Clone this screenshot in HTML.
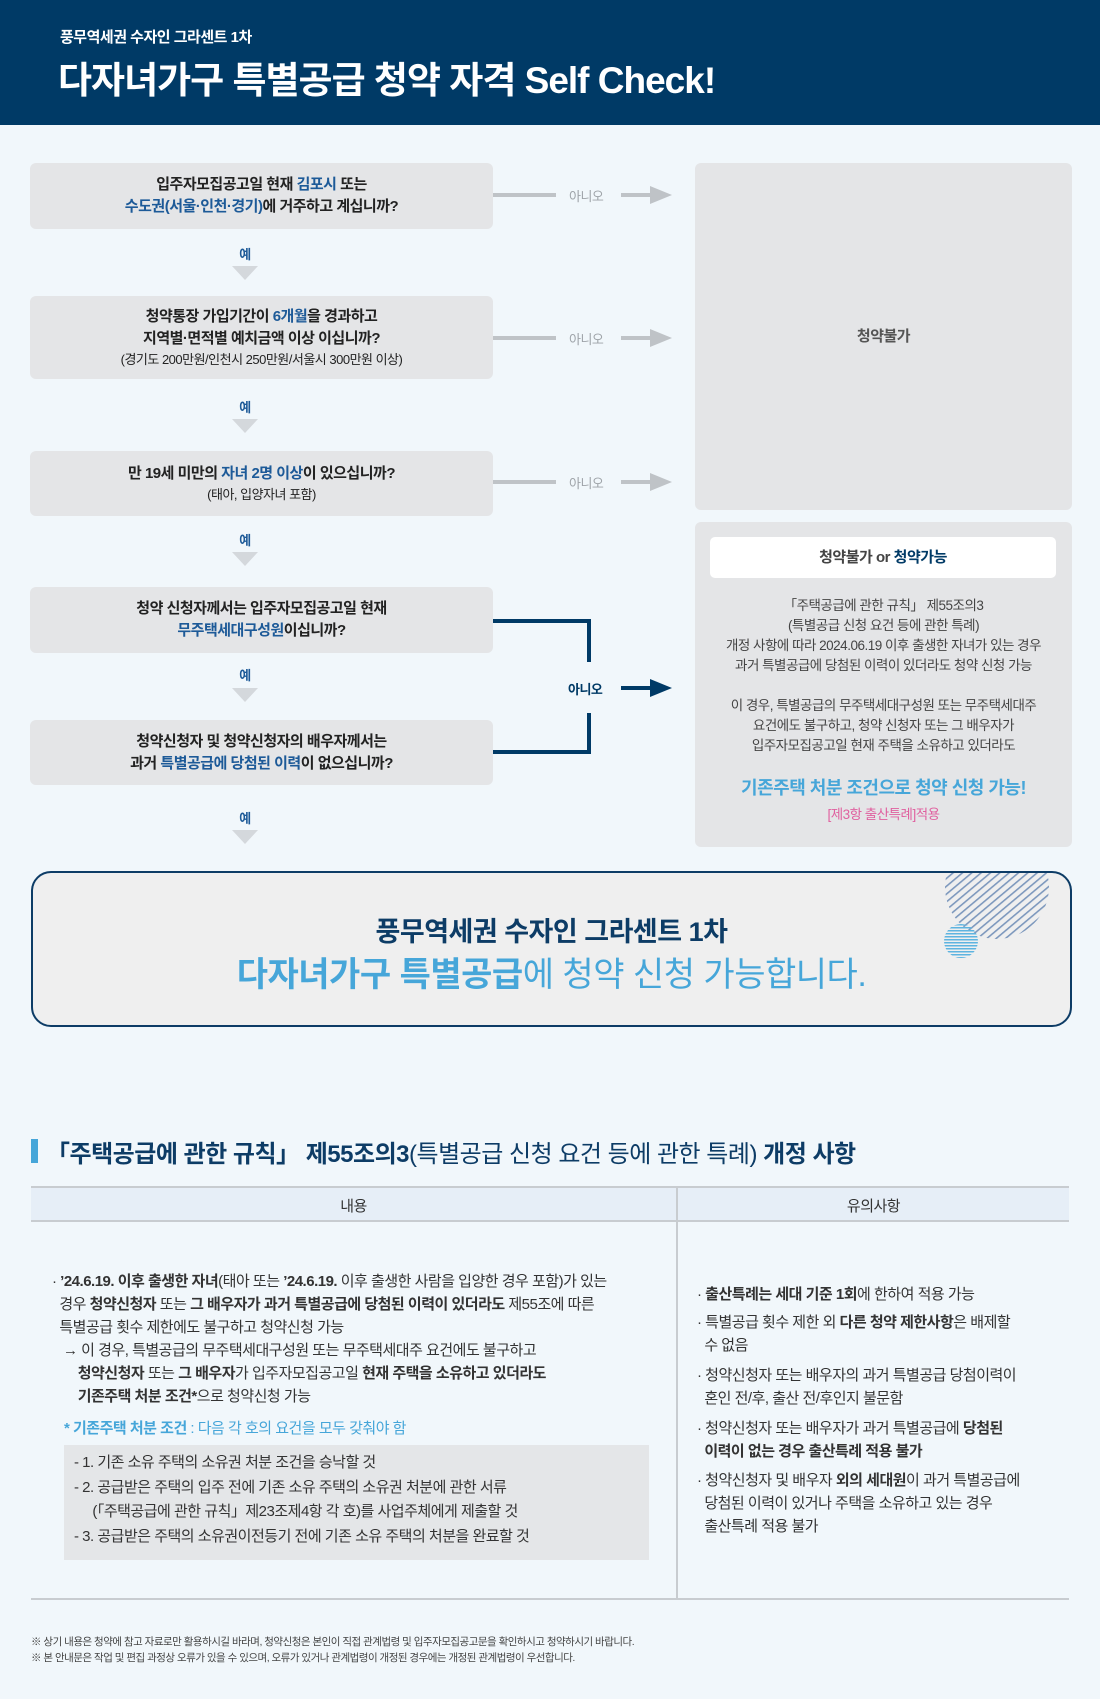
<!DOCTYPE html>
<html><head><meta charset="utf-8"><style>
*{margin:0;padding:0;box-sizing:border-box}
body{width:1100px;height:1699px;background:#f1f7fb;font-family:"Liberation Sans","Noto Sans CJK KR",sans-serif;color:#222;position:relative;overflow:hidden;letter-spacing:-0.5px}
.a{position:absolute}
.hdr{left:0;top:0;width:1100px;height:125px;background:#003a66;color:#fff}
.box{background:#e4e5e7;border-radius:6px;display:flex;flex-direction:column;align-items:center;justify-content:center;text-align:center;font-size:15px;line-height:22px;font-weight:bold;color:#222}
.box small{font-size:13px;font-weight:normal;line-height:20px}
.b{color:#1d5a98}
.yes{font-size:13px;font-weight:bold;color:#1d5a98;width:30px;text-align:center}
.tri{width:0;height:0;border-left:13px solid transparent;border-right:13px solid transparent;border-top:14px solid #d4d8dc}
.no{font-size:13px;color:#9ea3a8}
.rt{font-size:13.5px;color:#444;line-height:20px;text-align:center}
.tt{font-size:15px;line-height:23px;color:#333}
</style></head><body>
<div class="a hdr">
 <div class="a" style="left:60px;top:26px;font-size:15px;font-weight:bold">풍무역세권 수자인 그라센트 1차</div>
 <div class="a" style="left:58px;top:50px;font-size:37px;font-weight:bold;letter-spacing:-1px">다자녀가구 특별공급 청약 자격 Self Check!</div>
</div>

<div class="a box" style="left:30px;top:163px;width:463px;height:66px"><div>입주자모집공고일 현재 <span class="b">김포시</span> 또는</div><div><span class="b">수도권(서울·인천·경기)</span>에 거주하고 계십니까?</div></div>
<div class="a yes" style="left:230px;top:244px">예</div><div class="a tri" style="left:232px;top:266px"></div>
<div class="a box" style="left:30px;top:296px;width:463px;height:83px"><div>청약통장 가입기간이 <span class="b">6개월</span>을 경과하고</div><div>지역별·면적별 예치금액 이상 이십니까?</div><small>(경기도 200만원/인천시 250만원/서울시 300만원 이상)</small></div>
<div class="a yes" style="left:230px;top:397px">예</div><div class="a tri" style="left:232px;top:419px"></div>
<div class="a box" style="left:30px;top:451px;width:463px;height:65px"><div>만 19세 미만의 <span class="b">자녀 2명 이상</span>이 있으십니까?</div><small>(태아, 입양자녀 포함)</small></div>
<div class="a yes" style="left:230px;top:530px">예</div><div class="a tri" style="left:232px;top:552px"></div>
<div class="a box" style="left:30px;top:587px;width:463px;height:66px"><div>청약 신청자께서는 입주자모집공고일 현재</div><div><span class="b">무주택세대구성원</span>이십니까?</div></div>
<div class="a yes" style="left:230px;top:665px">예</div><div class="a tri" style="left:232px;top:688px"></div>
<div class="a box" style="left:30px;top:720px;width:463px;height:65px"><div>청약신청자 및 청약신청자의 배우자께서는</div><div>과거 <span class="b">특별공급에 당첨된 이력</span>이 없으십니까?</div></div>
<div class="a yes" style="left:230px;top:808px">예</div><div class="a tri" style="left:232px;top:830px"></div>

<svg class="a" style="left:0;top:0" width="1100" height="900">
 <g fill="#bfc3c7">
  <rect x="493" y="193" width="63" height="4"/><rect x="621" y="193" width="33" height="4"/><polygon points="650,186 672,195 650,204"/>
  <rect x="493" y="336" width="63" height="4"/><rect x="621" y="336" width="33" height="4"/><polygon points="650,329 672,338 650,347"/>
  <rect x="493" y="480" width="63" height="4"/><rect x="621" y="480" width="33" height="4"/><polygon points="650,473 672,482 650,491"/>
 </g>
 <g fill="none" stroke="#003a66" stroke-width="4">
  <polyline points="493,621 589,621 589,662"/>
  <polyline points="589,713 589,752 493,752"/>
 </g>
 <rect x="621" y="686" width="33" height="4" fill="#003a66"/><polygon points="650,679 672,688 650,697" fill="#003a66"/>
</svg>
<div class="a no" style="left:569px;top:186px">아니오</div>
<div class="a no" style="left:569px;top:329px">아니오</div>
<div class="a no" style="left:569px;top:473px">아니오</div>
<div class="a no" style="left:568px;top:679px;color:#003a66;font-weight:bold">아니오</div>

<div class="a box" style="left:695px;top:163px;width:377px;height:347px;font-size:15px;color:#555">청약불가</div>
<div class="a" style="left:695px;top:522px;width:377px;height:325px;background:#e4e5e7;border-radius:6px"></div>
<div class="a" style="left:710px;top:537px;width:346px;height:41px;background:#fff;border-radius:5px;text-align:center;line-height:41px;font-size:15px;font-weight:bold;color:#444">청약불가 or <span style="color:#003a66">청약가능</span></div>
<div class="a rt" style="left:700px;top:596px;width:367px">「주택공급에 관한 규칙」 제55조의3<br>(특별공급 신청 요건 등에 관한 특례)<br>개정 사항에 따라 2024.06.19 이후 출생한 자녀가 있는 경우<br>과거 특별공급에 당첨된 이력이 있더라도 청약 신청 가능</div>
<div class="a rt" style="left:700px;top:696px;width:367px">이 경우, 특별공급의 무주택세대구성원 또는 무주택세대주<br>요건에도 불구하고, 청약 신청자 또는 그 배우자가<br>입주자모집공고일 현재 주택을 소유하고 있더라도</div>
<div class="a" style="left:700px;top:774px;width:367px;text-align:center;font-size:18px;font-weight:bold;color:#46a6d9">기존주택 처분 조건으로 청약 신청 가능!</div>
<div class="a" style="left:700px;top:803px;width:367px;text-align:center;font-size:13.5px;color:#e0609f">[제3항 출산특례]적용</div>

<div class="a" style="left:31px;top:871px;width:1041px;height:156px;border:2.5px solid #0d3c66;border-radius:20px;background:#efefef;overflow:hidden">
 <svg class="a" style="left:900px;top:0" width="140" height="110">
  <defs><pattern id="s" width="6" height="6" patternUnits="userSpaceOnUse" patternTransform="rotate(-40)"><rect width="6" height="1.6" fill="#7d98bd"/></pattern>
  <pattern id="d" width="3" height="3" patternUnits="userSpaceOnUse"><rect width="3" height="1.5" fill="#5eb4e0"/></pattern></defs>
  <circle cx="64" cy="14" r="52" fill="url(#s)"/>
  <circle cx="28" cy="68" r="17" fill="url(#d)"/>
 </svg>
 <div class="a" style="left:0;width:100%;top:37px;text-align:center;font-size:27px;font-weight:bold;color:#0d3c66">풍무역세권 수자인 그라센트 1차</div>
 <div class="a" style="left:0;width:100%;top:74px;text-align:center;font-size:34px;color:#46a6d9"><b>다자녀가구 특별공급</b>에 청약 신청 가능합니다.</div>
</div>

<div class="a" style="left:31px;top:1139px;width:7px;height:24px;background:#46a6d9"></div>
<div class="a" style="left:46px;top:1134px;font-size:24px;color:#0d3c66"><b>「주택공급에 관한 규칙」 제55조의3</b>(특별공급 신청 요건 등에 관한 특례) <b>개정 사항</b></div>
<div class="a" style="left:31px;top:1186px;width:1038px;height:36px;background:#e6eef7;border-top:2px solid #c8ccd0;border-bottom:2px solid #c8ccd0"></div>
<div class="a" style="left:676px;top:1186px;width:2px;height:413px;background:#c8ccd0"></div>
<div class="a" style="left:31px;top:1598px;width:1038px;height:2px;background:#c8ccd0"></div>
<div class="a" style="left:31px;top:1195px;width:645px;text-align:center;font-size:15px;color:#333">내용</div>
<div class="a" style="left:678px;top:1195px;width:391px;text-align:center;font-size:15px;color:#333">유의사항</div>

<div class="a tt" style="left:52px;top:1270px;width:620px">· <b>’24.6.19. 이후 출생한 자녀</b>(태아 또는 <b>’24.6.19.</b> 이후 출생한 사람을 입양한 경우 포함)가 있는<br>&nbsp;&nbsp;경우 <b>청약신청자</b> 또는 <b>그 배우자가 과거 특별공급에 당첨된 이력이 있더라도</b> 제55조에 따른<br>&nbsp;&nbsp;특별공급 횟수 제한에도 불구하고 청약신청 가능<br>&nbsp;&nbsp;&nbsp;→ 이 경우, 특별공급의 무주택세대구성원 또는 무주택세대주 요건에도 불구하고<br>&nbsp;&nbsp;&nbsp;&nbsp;&nbsp;&nbsp;&nbsp;<b>청약신청자</b> 또는 <b>그 배우자</b>가 입주자모집공고일 <b>현재 주택을 소유하고 있더라도</b><br>&nbsp;&nbsp;&nbsp;&nbsp;&nbsp;&nbsp;&nbsp;<b>기존주택 처분 조건*</b>으로 청약신청 가능</div>
<div class="a" style="left:64px;top:1417px;font-size:15px;color:#46a6d9"><b>* 기존주택 처분 조건</b> : 다음 각 호의 요건을 모두 갖춰야 함</div>
<div class="a tt" style="left:64px;top:1445px;width:585px;height:115px;background:#e4e6e8;padding:6px 10px;line-height:24.5px">- 1. 기존 소유 주택의 소유권 처분 조건을 승낙할 것<br>- 2. 공급받은 주택의 입주 전에 기존 소유 주택의 소유권 처분에 관한 서류<br>&nbsp;&nbsp;&nbsp;&nbsp;&nbsp;(「주택공급에 관한 규칙」제23조제4항 각 호)를 사업주체에게 제출할 것<br>- 3. 공급받은 주택의 소유권이전등기 전에 기존 소유 주택의 처분을 완료할 것</div>

<div class="a tt" style="left:697px;top:1283px;width:370px">· <b>출산특례는 세대 기준 1회</b>에 한하여 적용 가능</div>
<div class="a tt" style="left:697px;top:1311px;width:370px">· 특별공급 횟수 제한 외 <b>다른 청약 제한사항</b>은 배제할<br>&nbsp;&nbsp;수 없음</div>
<div class="a tt" style="left:697px;top:1364px;width:370px">· 청약신청자 또는 배우자의 과거 특별공급 당첨이력이<br>&nbsp;&nbsp;혼인 전/후, 출산 전/후인지 불문함</div>
<div class="a tt" style="left:697px;top:1417px;width:370px">· 청약신청자 또는 배우자가 과거 특별공급에 <b>당첨된<br>&nbsp;&nbsp;이력이 없는 경우 출산특례 적용 불가</b></div>
<div class="a tt" style="left:697px;top:1469px;width:370px">· 청약신청자 및 배우자 <b>외의 세대원</b>이 과거 특별공급에<br>&nbsp;&nbsp;당첨된 이력이 있거나 주택을 소유하고 있는 경우<br>&nbsp;&nbsp;출산특례 적용 불가</div>

<div class="a" style="left:31px;top:1634px;font-size:10.5px;color:#444;line-height:16px">※ 상기 내용은 청약에 참고 자료로만 활용하시길 바라며, 청약신청은 본인이 직접 관계법령 및 입주자모집공고문을 확인하시고 청약하시기 바랍니다.<br>※ 본 안내문은 작업 및 편집 과정상 오류가 있을 수 있으며, 오류가 있거나 관계법령이 개정된 경우에는 개정된 관계법령이 우선합니다.</div>
</body></html>
